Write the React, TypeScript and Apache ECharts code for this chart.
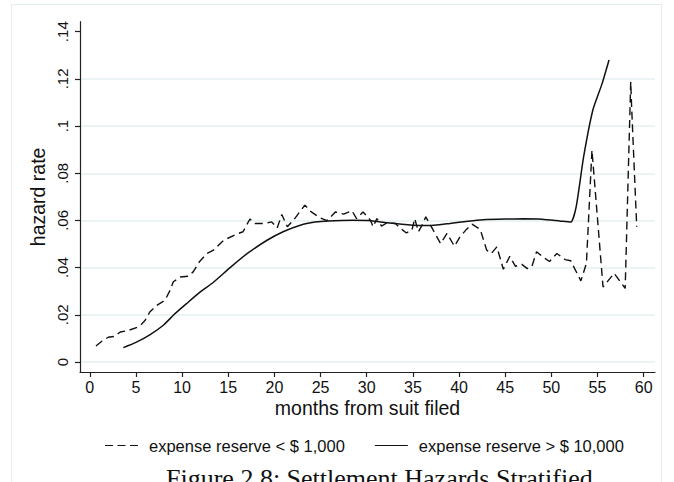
import React, { useEffect, useRef } from "react";
import * as echarts from "echarts";

// ---- data ----
const xTicks = [0, 5, 10, 15, 20, 25, 30, 35, 40, 45, 50, 55, 60];
const yTicks = [0, 0.02, 0.04, 0.06, 0.08, 0.1, 0.12, 0.14];

const lowName = "expense reserve < $ 1,000";
const highName = "expense reserve > $ 10,000";

const lowMonths = [
  0.67, 1.3, 2.0, 2.6, 3.3, 4.2, 5.4, 6.0, 6.5, 7.25, 8.15, 8.7, 9.05, 9.8, 10.7, 11.2, 11.9, 12.7,
  13.4, 14.5, 15.9, 16.6, 17.35, 17.9, 19.0, 19.7, 20.3, 20.8, 21.4, 22.2, 23.3, 24.0, 24.9, 25.7,
  26.6, 27.5, 28.4, 28.9, 29.6, 30.4, 30.7, 31.1, 31.6, 32.2, 33.1, 33.8, 34.3, 34.9, 35.2, 35.6,
  36.0, 36.4, 36.9, 37.4, 38.0, 38.7, 39.5, 40.1, 40.8, 41.4, 42.3, 43.0, 43.5, 44.1, 44.8, 45.5,
  46.1, 46.8, 47.4, 47.9, 48.4, 49.1, 49.8, 50.6, 51.5, 52.1, 53.2, 53.8, 54.4, 55.6, 56.8, 58.0,
  58.6, 58.7, 59.25,
];
const lowHazard = [
  0.0068, 0.0088, 0.0105, 0.0108, 0.0127, 0.0134, 0.0151, 0.0177, 0.0212, 0.024, 0.0262, 0.0304,
  0.034, 0.036, 0.0364, 0.0382, 0.0426, 0.046, 0.0474, 0.0516, 0.0542, 0.0552, 0.0606, 0.0587,
  0.0587, 0.0594, 0.0568, 0.0625, 0.0573, 0.0608, 0.0665, 0.0636, 0.0612, 0.0599, 0.0636, 0.0627,
  0.0641, 0.0608, 0.0636, 0.0601, 0.0573, 0.0608, 0.0576, 0.059, 0.0587, 0.0562, 0.0547, 0.0559,
  0.0608, 0.0552, 0.058, 0.0615, 0.058, 0.0545, 0.0502, 0.0545, 0.0491, 0.053, 0.0562, 0.0584,
  0.0562, 0.0474, 0.046, 0.0488, 0.0393, 0.0448, 0.0406, 0.0414, 0.0396, 0.0406, 0.0467, 0.0445,
  0.0426, 0.046, 0.0434, 0.0429, 0.0344, 0.0418, 0.0898, 0.0318, 0.0376, 0.0312, 0.1188, 0.108,
  0.0573,
];

const highMonths = [
  3.63, 5.0, 6.5, 8.0, 9.1, 10.5, 12.0, 13.4, 15.2, 17.0, 19.2, 21.0, 22.8, 24.4, 25.8, 28.5, 30.5,
  32.2, 35.0, 37.0, 39.0, 41.0, 42.6, 45.0, 47.0, 49.0, 51.0, 52.1, 52.7, 53.5, 54.5, 55.5, 56.25,
];
const highHazard = [
  0.0061, 0.0083, 0.0115, 0.0157, 0.02, 0.0248, 0.0298, 0.0338, 0.04, 0.0458, 0.0516, 0.0553, 0.058,
  0.0593, 0.0598, 0.0601, 0.0599, 0.059, 0.058, 0.0579, 0.0587, 0.0597, 0.0603, 0.0606, 0.0607,
  0.0605, 0.0597, 0.0593, 0.066, 0.087, 0.1068, 0.118, 0.128,
];

const fmtY = (v: number) => (v === 0 ? "0" : String(+v.toFixed(2)).replace(/^0/, ""));

const SANS = "'Liberation Sans', Arial, Helvetica, sans-serif";
const GRID = "#e6eff2";

export default function App() {
  const ref = useRef<HTMLDivElement>(null);

  useEffect(() => {
    if (!ref.current) return;
    const chart = echarts.init(ref.current, null, { renderer: "svg" });
    const lowData = lowMonths.map((m, i) => [m, lowHazard[i]]);
    const highData = highMonths.map((m, i) => [m, highHazard[i]]);
    // gridlines at every y tick except the top one (.14)
    const gridColors = yTicks.map((_, i) => (i === yTicks.length - 1 ? "rgba(0,0,0,0)" : GRID));

    chart.setOption({
      animation: false,
      backgroundColor: "#ffffff",
      textStyle: { fontFamily: SANS },
      grid: { left: 80, right: 19, top: 21.7, bottom: 110, containLabel: false },
      xAxis: {
        type: "value",
        min: -1.06,
        max: 61.23,
        name: "months from suit filed",
        nameLocation: "middle",
        nameGap: 25.5,
        nameMoveOverlap: false,
        nameTextStyle: { fontSize: 19.5, color: "#111", fontFamily: SANS },
        axisLine: { show: true, onZero: false, lineStyle: { color: "#222", width: 1.2 } },
        axisTick: { show: true, inside: false, length: 5, customValues: xTicks, lineStyle: { color: "#222", width: 1.2 } },
        axisLabel: { show: true, margin: 7, fontSize: 16, color: "#111", customValues: xTicks, fontFamily: SANS },
        splitLine: { show: false },
      },
      yAxis: {
        type: "value",
        min: -0.00424,
        max: 0.14424,
        name: "hazard rate",
        nameLocation: "middle",
        nameGap: 32,
        nameRotate: 90,
        nameMoveOverlap: false,
        nameTextStyle: { fontSize: 19.5, color: "#111", fontFamily: SANS },
        axisLine: { show: true, onZero: false, lineStyle: { color: "#222", width: 1.2 } },
        axisTick: { show: true, inside: false, length: 5, customValues: yTicks, lineStyle: { color: "#222", width: 1.2 } },
        axisLabel: {
          show: true,
          rotate: 90,
          margin: 10.5,
          fontSize: 15,
          color: "#111",
          customValues: yTicks,
          formatter: fmtY,
          fontFamily: SANS,
        },
        splitLine: { show: true, lineStyle: { color: gridColors, width: 1.5 } },
      },
      legend: {
        left: 105,
        top: 437,
        padding: 0,
        itemWidth: 33,
        itemHeight: 1.5,
        itemGap: 30,
        textStyle: { fontSize: 16.5, color: "#111", fontFamily: SANS, padding: [0, 0, 0, 6] },
        data: [
          { name: lowName, icon: "path://M0,0h8v1h-8z M12.5,0h8v1h-8z M25,0h8v1h-8z" },
          { name: highName, icon: "path://M0,0h33v1h-33z" },
        ],
      },
      graphic: [
        {
          type: "rect",
          shape: { x: 11.5, y: 4.5, width: 650, height: 520 },
          style: { fill: "none", stroke: "#e3ecef", lineWidth: 1 },
          silent: true,
          z: -1,
        },
        {
          type: "text",
          left: 166,
          top: 465,
          style: {
            text: "Figure 2.8: Settlement Hazards Stratified",
            font: "26px 'Liberation Serif', 'Times New Roman', serif",
            fill: "#111",
          },
          silent: true,
        },
      ],
      series: [
        {
          name: lowName,
          type: "line",
          data: lowData,
          symbol: "none",
          smooth: false,
          color: "#111",
          lineStyle: { color: "#111", width: 1.4, type: [8, 4.7] },
          z: 3,
        },
        {
          name: highName,
          type: "line",
          data: highData,
          symbol: "none",
          smooth: 0.2,
          color: "#111",
          lineStyle: { color: "#111", width: 1.5, type: "solid" },
          z: 3,
        },
      ],
    });

    return () => chart.dispose();
  }, []);

  return (
    <div
      ref={ref}
      style={{ position: "fixed", left: 0, top: 0, width: 674, height: 482, background: "#fff" }}
    />
  );
}
